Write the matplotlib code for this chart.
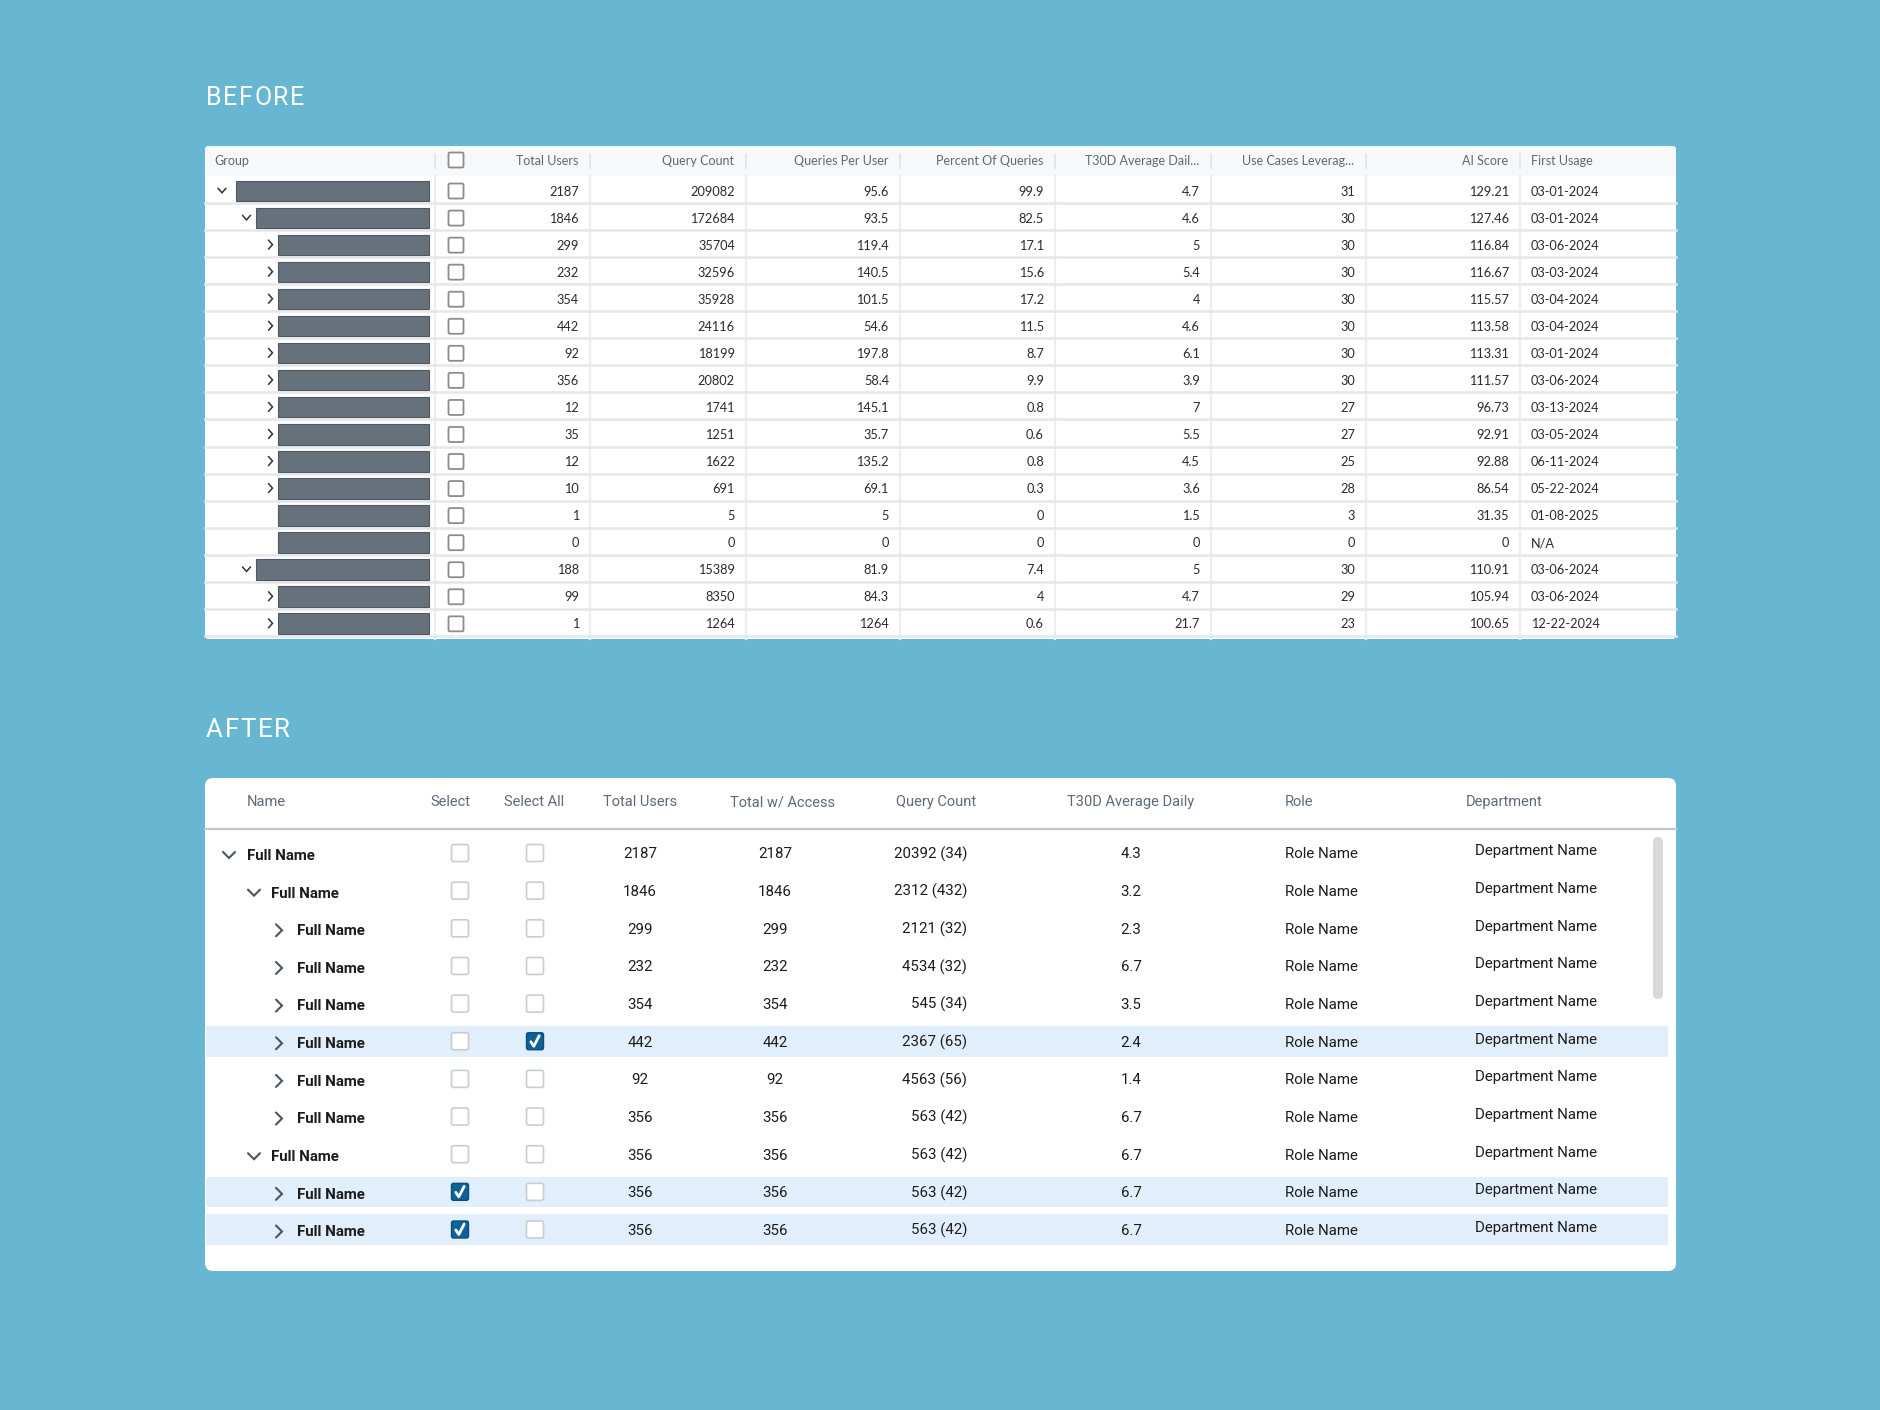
import matplotlib
matplotlib.use("Agg")
import matplotlib.pyplot as plt
from matplotlib.patches import FancyBboxPatch, Rectangle

# ─── Data: BEFORE table ──────────────────────────────────────────────────────

before_headers = ["Group", "Total Users", "Query Count", "Queries Per User",
                  "Percent Of Queries", "T30D Average Dail...", "Use Cases Leverag...",
                  "AI Score", "First Usage"]
before_level = [0, 1, 2, 2, 2, 2, 2, 2, 2, 2, 2, 2, 2, 2, 1, 2, 2]
before_toggle = ["open", "open", "closed", "closed", "closed", "closed", "closed",
                 "closed", "closed", "closed", "closed", "closed", "none", "none",
                 "open", "closed", "closed"]
before_total_users = ["2187", "1846", "299", "232", "354", "442", "92", "356", "12",
                      "35", "12", "10", "1", "0", "188", "99", "1"]
before_query_count = ["209082", "172684", "35704", "32596", "35928", "24116", "18199",
                      "20802", "1741", "1251", "1622", "691", "5", "0", "15389",
                      "8350", "1264"]
before_per_user = ["95.6", "93.5", "119.4", "140.5", "101.5", "54.6", "197.8", "58.4",
                   "145.1", "35.7", "135.2", "69.1", "5", "0", "81.9", "84.3", "1264"]
before_percent = ["99.9", "82.5", "17.1", "15.6", "17.2", "11.5", "8.7", "9.9", "0.8",
                  "0.6", "0.8", "0.3", "0", "0", "7.4", "4", "0.6"]
before_t30d = ["4.7", "4.6", "5", "5.4", "4", "4.6", "6.1", "3.9", "7", "5.5", "4.5",
               "3.6", "1.5", "0", "5", "4.7", "21.7"]
before_use_cases = ["31", "30", "30", "30", "30", "30", "30", "30", "27", "27", "25",
                    "28", "3", "0", "30", "29", "23"]
before_ai_score = ["129.21", "127.46", "116.84", "116.67", "115.57", "113.58", "113.31",
                   "111.57", "96.73", "92.91", "92.88", "86.54", "31.35", "0", "110.91",
                   "105.94", "100.65"]
before_first_usage = ["03-01-2024", "03-01-2024", "03-06-2024", "03-03-2024",
                      "03-04-2024", "03-04-2024", "03-01-2024", "03-06-2024",
                      "03-13-2024", "03-05-2024", "06-11-2024", "05-22-2024",
                      "01-08-2025", "N/A", "03-06-2024", "03-06-2024", "12-22-2024"]

# ─── Data: AFTER table ───────────────────────────────────────────────────────

after_headers = ["Name", "Select", "Select All", "Total Users", "Total w/ Access",
                 "Query Count", "T30D Average Daily", "Role", "Department"]
after_level = [0, 1, 2, 2, 2, 2, 2, 2, 1, 2, 2]
after_open = [True, True, False, False, False, False, False, False, True, False, False]
after_names = ["Full Name"] * 11
after_select = [False] * 9 + [True, True]
after_select_all = [False] * 5 + [True] + [False] * 5
after_total_users = ["2187", "1846", "299", "232", "354", "442", "92", "356", "356",
                     "356", "356"]
after_total_access = ["2187", "1846", "299", "232", "354", "442", "92", "356", "356",
                      "356", "356"]
after_query_count = ["20392 (34)", "2312 (432)", "2121 (32)", "4534 (32)", "545 (34)",
                     "2367 (65)", "4563 (56)", "563 (42)", "563 (42)", "563 (42)",
                     "563 (42)"]
after_t30d = ["4.3", "3.2", "2.3", "6.7", "3.5", "2.4", "1.4", "6.7", "6.7", "6.7", "6.7"]
after_roles = ["Role Name"] * 11
after_departments = ["Department Name"] * 11

# ─── Style ───────────────────────────────────────────────────────────────────

BG = "#67b6d2"
W, H = 1880, 1410

fig = plt.figure(figsize=(W / 100, H / 100), dpi=100)
fig.patch.set_facecolor(BG)
ax = fig.add_axes([0, 0, 1, 1])
ax.set_xlim(0, W)
ax.set_ylim(H, 0)
ax.axis("off")


def rbox(x0, y0, x1, y1, r, fc, ec="none", lw=0, z=1):
    p = FancyBboxPatch((x0, y0), x1 - x0, y1 - y0,
                       boxstyle=f"round,pad=0,rounding_size={r}",
                       fc=fc, ec=ec, lw=lw, zorder=z)
    ax.add_patch(p)
    return p


def chevron(x, y, kind, w, h, color, lw):
    if kind == "open":
        xs, ys = [x - w, x, x + w], [y - h / 2, y + h / 2, y - h / 2]
    else:
        xs, ys = [x - w / 2, x + w / 2, x - w / 2], [y - h, y, y + h]
    ax.plot(xs, ys, color=color, lw=lw, solid_capstyle="round",
            solid_joinstyle="miter", zorder=5)


def spaced_title(x, y, s, spacing, **kw):
    renderer = fig.canvas.get_renderer()
    for ch in s:
        t = ax.text(x, y, ch, **kw)
        x += t.get_window_extent(renderer).width + spacing


# ─── BEFORE ──────────────────────────────────────────────────────────────────

spaced_title(206, 105, "BEFORE", 1.6, color="white", fontsize=18,
             family="Roboto", va="baseline", ha="left")

b_bounds = [205, 435, 590, 746, 900, 1055, 1211, 1366, 1520, 1676]
b_top, b_head, b_row, b_bottom = 146, 176, 27.05, 639
n_before = len(before_level)

table = rbox(b_bounds[0], b_top, b_bounds[-1], b_bottom, 4, "white", z=1)
hdr = Rectangle((b_bounds[0], b_top), b_bounds[-1] - b_bounds[0], b_head - b_top,
                fc="#f7f8fa", ec="none", zorder=2)
ax.add_patch(hdr)
hdr.set_clip_path(table)

hdr_kw = dict(family="Lato", fontsize=9, color="#60686f", va="baseline", zorder=6)
cell_kw = dict(family="Lato", fontsize=9.2, color="#2b2b2b", va="baseline", zorder=6)

hy = (b_top + b_head) / 2 + 4
ax.text(b_bounds[0] + 9, hy, before_headers[0], ha="left", **hdr_kw)
for k in range(1, 8):
    ax.text(b_bounds[k + 1] - 12, hy, before_headers[k], ha="right", **hdr_kw)
ax.text(b_bounds[8] + 11, hy, before_headers[8], ha="left", **hdr_kw)
for xb in b_bounds[1:-1]:
    ax.plot([xb, xb], [154, 168], color="#e2e5e9", lw=1.3, zorder=3)
    ax.plot([xb, xb], [b_head, b_bottom], color="#eceef1", lw=1.6, zorder=3)


def before_box(cx, cy):
    rbox(cx - 7.5, cy - 7.5, cx + 7.5, cy + 7.5, 1.5, "white", ec="#8c8c8c", lw=1.3, z=6)


before_box(456, 160)

before_cols = [before_total_users, before_query_count, before_per_user, before_percent,
               before_t30d, before_use_cases, before_ai_score]
bar_left = [236, 256, 278]
chev_x = [222, 246.5, 270.5]

for i in range(n_before):
    y0 = b_head + i * b_row
    y1 = y0 + b_row
    cy = (y0 + y1) / 2
    ty = cy + 1.5 + 4.6
    ax.plot([b_bounds[0], b_bounds[-1]], [y1, y1], color="#e4e7eb", lw=1.8, zorder=3)
    lv = before_level[i]
    ax.add_patch(Rectangle((bar_left[lv], y0 + 4.5), 429 - bar_left[lv], b_row - 6.5,
                           fc="#66717c", ec="#4f5963", lw=0.8, zorder=4))
    if before_toggle[i] != "none":
        chevron(chev_x[lv], cy + 1, before_toggle[i], 4, 4.5, "#333333", 1.1)
    before_box(456, cy + 1.5)
    for k, col in enumerate(before_cols):
        ax.text(b_bounds[k + 2] - 11, ty, col[i], ha="right", **cell_kw)
    ax.text(b_bounds[8] + 11, ty, before_first_usage[i], ha="left", **cell_kw)

# ─── AFTER ───────────────────────────────────────────────────────────────────

spaced_title(206, 737, "AFTER", 1.8, color="white", fontsize=18.5,
             family="Roboto", va="baseline", ha="left")

a_left, a_right, a_top, a_bottom = 205, 1676, 778, 1271
a_line = 829
a_row0, a_row = 853, 37.65

rbox(a_left, a_top, a_right, a_bottom, 8, "white", z=1)
ax.plot([a_left, a_right], [a_line, a_line], color="#c3c8ce", lw=1.6, zorder=3)

ahdr_kw = dict(family="Roboto", fontsize=10.5, color="#5d6a7a", va="baseline", zorder=6)
acell_kw = dict(family="Roboto", fontsize=10.8, color="#1c1c1c", va="baseline", zorder=6)

# header anchors: (x, ha)
a_hdr_pos = [(247, "left"), (450, "center"), (534, "center"), (640, "center"),
             (783, "center"), (936, "center"), (1131, "center"), (1285, "left"),
             (1466, "left")]
ahy = 801 + 5.2
for label, (x, ha) in zip(after_headers, a_hdr_pos):
    ax.text(x, ahy, label, ha=ha, **ahdr_kw)

# scroll bar
rbox(1653, 837, 1663, 999, 5, "#d9d9d9", z=4)


def after_box(cx, cy, checked):
    if checked:
        rbox(cx - 8.5, cy - 8.5, cx + 8.5, cy + 8.5, 2, "#0f6198", ec="#0b4f7e", lw=1, z=6)
        ax.plot([cx - 4.2, cx - 1.2, cx + 4.2], [cy + 0.5, cy + 5, cy - 5.5],
                color="white", lw=2, solid_capstyle="round", zorder=7)
    else:
        rbox(cx - 8.5, cy - 8.5, cx + 8.5, cy + 8.5, 2, "white", ec="#c9cdd2", lw=1.2, z=6)


name_x = [247, 271, 297]
a_chev_x = [229, 254, 279]
name_kw = dict(acell_kw, fontweight="semibold")

for i in range(len(after_level)):
    cy = a_row0 + i * a_row
    ty = cy + 5.4
    if after_select[i] or after_select_all[i]:
        ax.add_patch(Rectangle((a_left + 1, cy - 15.3), 1668 - a_left - 1, 30.6,
                               fc="#e0effb", ec="none", zorder=2))
    lv = after_level[i]
    chevron(a_chev_x[lv], cy + 2, "open" if after_open[i] else "closed",
            6, 6, "#4a5563", 1.5)
    ax.text(name_x[lv], ty + 1.5, after_names[i], ha="left", **name_kw)
    after_box(460, cy, after_select[i])
    after_box(535, cy, after_select_all[i])
    ax.text(640, ty, after_total_users[i], ha="center", **acell_kw)
    ax.text(775, ty, after_total_access[i], ha="center", **acell_kw)
    ax.text(967, ty, after_query_count[i], ha="right", **acell_kw)
    ax.text(1131, ty, after_t30d[i], ha="center", **acell_kw)
    ax.text(1285, ty, after_roles[i], ha="left", **acell_kw)
    ax.text(1475, ty - 3, after_departments[i], ha="left", **acell_kw)

fig.savefig("out.png", dpi=100, facecolor=BG)
plt.close(fig)
print("saved out.png")
